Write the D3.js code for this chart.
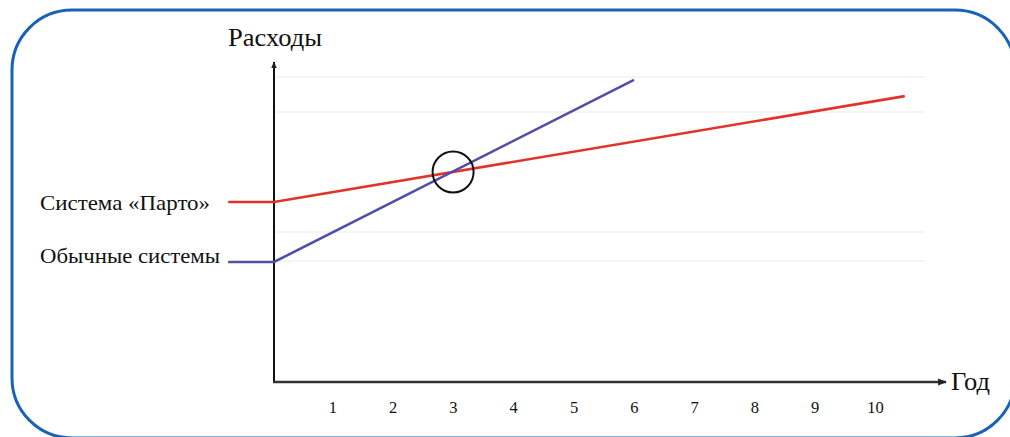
<!DOCTYPE html>
<html>
<head>
<meta charset="utf-8">
<script src="https://cdn.jsdelivr.net/npm/d3@7"></script>
<style>
  html, body { margin: 0; padding: 0; background: #fff; }
  svg { display: block; }
  text { font-family: "Liberation Serif", "DejaVu Serif", serif; fill: #111; }
</style>
</head>
<body>
<svg id="chart" width="1010" height="437"></svg>
<script>
// Years on the horizontal axis
const years = [1, 2, 3, 4, 5, 6, 7, 8, 9, 10];
const tickLabels = ["1", "2", "3", "4", "5", "6", "7", "8", "9", "10"];

// Cost curves (year, cost); the first point is the label stub left of the axis
const partoYears = [-0.76, 0, 10.46];
const partoCost  = [60, 60, 95.3];
const usualYears = [-0.76, 0, 5.97];
const usualCost  = [40, 40, 100.7];

// Break-even point marked with a circle
const breakEvenYear = 2.97;
const breakEvenCost = 70;

// Faint horizontal guide levels
const gridLevels = [101.7, 90, 50, 40.3];

const seriesNames = ["Система «Парто»", "Обычные системы"];
const yTitle = "Расходы";
const xTitle = "Год";

const svg = d3.select("#chart");

// Rounded blue frame
svg.append("rect")
  .attr("x", 12).attr("y", 10)
  .attr("width", 1003).attr("height", 428)
  .attr("rx", 60).attr("ry", 60)
  .attr("fill", "#fff")
  .attr("stroke", "#1a62b3")
  .attr("stroke-width", 3);

const x = d3.scaleLinear().domain([0, 10]).range([274, 877]);
const y = d3.scaleLinear().domain([0, 100]).range([382, 82]);

// Guide lines
svg.append("g").selectAll("line").data(gridLevels).join("line")
  .attr("x1", x(0)).attr("x2", 925)
  .attr("y1", d => y(d)).attr("y2", d => y(d))
  .attr("stroke", "#f1f1f1").attr("stroke-width", 1.5);

// Arrow markers
const defs = svg.append("defs");
defs.append("marker")
  .attr("id", "arrow")
  .attr("viewBox", "0 0 10 10")
  .attr("refX", 9).attr("refY", 5)
  .attr("markerWidth", 3.5).attr("markerHeight", 3.5)
  .attr("markerUnits", "strokeWidth")
  .attr("orient", "auto")
  .append("path").attr("d", "M0,1 L10,5 L0,9 Z").attr("fill", "#222");

// Axes
svg.append("line")
  .attr("x1", x(0)).attr("y1", y(0))
  .attr("x2", x(0)).attr("y2", 62)
  .attr("stroke", "#111").attr("stroke-width", 2)
  .attr("marker-end", "url(#arrow)");
svg.append("line")
  .attr("x1", x(0) - 1).attr("y1", y(0))
  .attr("x2", 946).attr("y2", y(0))
  .attr("stroke", "#333").attr("stroke-width", 2.5)
  .attr("marker-end", "url(#arrow)");

// Tick labels below the axis (no tick marks)
const xAxis = d3.axisBottom(x)
  .tickValues(years)
  .tickFormat((d, i) => tickLabels[i])
  .tickSize(0)
  .tickPadding(19);
const gx = svg.append("g").attr("transform", `translate(-2,${y(0)})`).call(xAxis);
gx.select(".domain").remove();
gx.selectAll("text")
  .attr("font-family", "Liberation Serif, serif")
  .attr("font-size", 16.5)
  .attr("fill", "#111");

// Series lines
const line = d3.line().x(d => x(d[0])).y(d => y(d[1]));
const parto = partoYears.map((v, i) => [v, partoCost[i]]);
const usual = usualYears.map((v, i) => [v, usualCost[i]]);

svg.append("path").datum(parto)
  .attr("d", line).attr("fill", "none")
  .attr("stroke", "#e2332b").attr("stroke-width", 2.6);
svg.append("path").datum(usual)
  .attr("d", line).attr("fill", "none")
  .attr("stroke", "#4f4fa8").attr("stroke-width", 2.6);

// Break-even circle
svg.append("circle")
  .attr("cx", x(breakEvenYear)).attr("cy", y(breakEvenCost))
  .attr("r", 20.5)
  .attr("fill", "none").attr("stroke", "#111").attr("stroke-width", 2);

// Axis titles
svg.append("text").attr("x", 228).attr("y", 46)
  .attr("font-size", 26).attr("textLength", 94)
  .attr("lengthAdjust", "spacingAndGlyphs").text(yTitle);
svg.append("text").attr("x", 951).attr("y", 390)
  .attr("font-size", 25).attr("textLength", 39)
  .attr("lengthAdjust", "spacingAndGlyphs").text(xTitle);

// Series labels at the start of each line
svg.append("text").attr("x", 40).attr("y", y(partoCost[0]) + 8)
  .attr("font-size", 22).attr("textLength", 170)
  .attr("lengthAdjust", "spacingAndGlyphs").text(seriesNames[0]);
svg.append("text").attr("x", 40).attr("y", y(usualCost[0]) + 1)
  .attr("font-size", 22).attr("textLength", 180)
  .attr("lengthAdjust", "spacingAndGlyphs").text(seriesNames[1]);
</script>
</body>
</html>
